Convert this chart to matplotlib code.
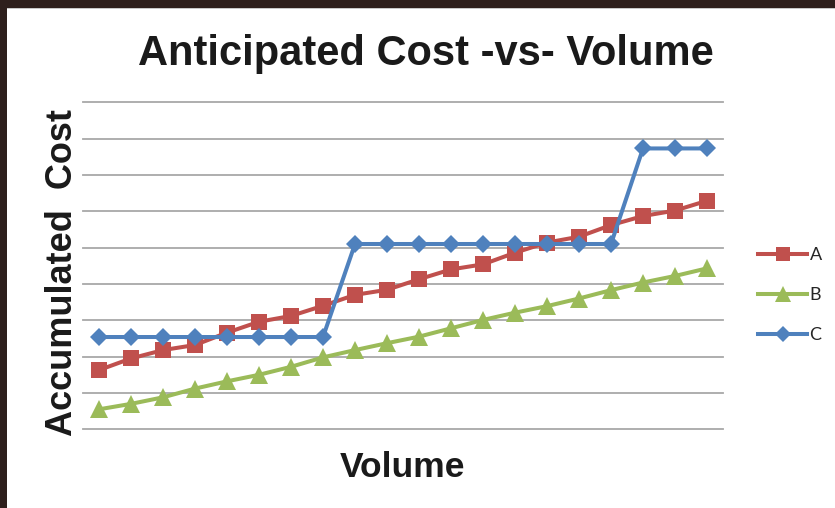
import matplotlib
matplotlib.use("Agg")
import matplotlib.pyplot as plt
from matplotlib.lines import Line2D
from matplotlib.patches import Rectangle

# Data: accumulated cost for each option over 20 volume steps
volume_steps = list(range(1, 21))
cost_a = [1.63, 1.95, 2.18, 2.32, 2.66, 2.96, 3.12, 3.40, 3.70, 3.84,
          4.13, 4.40, 4.54, 4.86, 5.14, 5.30, 5.62, 5.87, 6.02, 6.29]
cost_b = [0.55, 0.70, 0.88, 1.12, 1.32, 1.50, 1.72, 1.98, 2.18, 2.37,
          2.55, 2.78, 3.01, 3.21, 3.39, 3.60, 3.83, 4.04, 4.22, 4.43]
cost_c = [2.54, 2.54, 2.54, 2.54, 2.54, 2.54, 2.54, 2.54, 5.10, 5.10,
          5.10, 5.10, 5.10, 5.10, 5.10, 5.10, 5.10, 7.73, 7.73, 7.73]
series_names = ["A", "B", "C"]
grid_levels = list(range(0, 10))

RED = "#C0504D"
GREEN = "#9BBB59"
BLUE = "#4F81BD"
GRID = "#A8A8A8"

W, H = 835, 508
fig = plt.figure(figsize=(W / 100, H / 100), dpi=100)
fig.patch.set_facecolor("white")

# dark frame on the top and left edges
frame = "#2E1F1C"
fig.patches.append(Rectangle((0, 1 - 7.5 / H), 1, 7.5 / H, transform=fig.transFigure,
                             facecolor=frame, edgecolor="none", zorder=10))
fig.patches.append(Rectangle((0, 0), 6.5 / W, 1, transform=fig.transFigure,
                             facecolor=frame, edgecolor="none", zorder=10))
fig.patches.append(Rectangle((6.5 / W, 1 - 8.5 / H), 1, 1 / H, transform=fig.transFigure,
                             facecolor="#C8C8C8", edgecolor="none", zorder=9))

left, right, top, bottom = 83, 723, 102.3, 429.3
ax = fig.add_axes([left / W, 1 - bottom / H, (right - left) / W, (bottom - top) / H])
ax.set_facecolor("none")
for s in ax.spines.values():
    s.set_visible(False)
ax.set_xticks([])
ax.set_yticks([])
ax.set_xlim(0.5, 20.5)
ax.set_ylim(0, 9)

for g in grid_levels:
    ax.axhline(g, color=GRID, lw=1.3, zorder=0, clip_on=False)

ax.plot(volume_steps, cost_a, color=RED, lw=2.9, marker="s", ms=12,
        markeredgewidth=0, zorder=3, clip_on=False)
ax.plot(volume_steps, cost_b, color=GREEN, lw=2.9, marker="^", ms=13.5,
        markeredgewidth=0, zorder=4, clip_on=False)
ax.plot(volume_steps, cost_c, color=BLUE, lw=2.9, marker="D", ms=9.5,
        markeredgewidth=0, zorder=5, clip_on=False)

# titles
bold = dict(family=["Liberation Sans", "DejaVu Sans"], weight="bold", color="#1A1A1A")
fig.text(425.5 / W, 1 - 65 / H, "Anticipated Cost -vs- Volume", ha="center",
         va="baseline", fontsize=30, **bold)
fig.text(403 / W, 1 - 477 / H, "Volume", ha="center", va="baseline",
         fontsize=25.5, **bold)
fig.text(72 / W, 1 - 272.4 / H, "Accumulated  Cost", ha="center", va="baseline",
         rotation=90, rotation_mode="anchor", fontsize=26, **bold)

handles = [
    Line2D([], [], color=RED, lw=2.9, marker="s", ms=10.5, markeredgewidth=0),
    Line2D([], [], color=GREEN, lw=2.9, marker="^", ms=11.5, markeredgewidth=0),
    Line2D([], [], color=BLUE, lw=2.9, marker="D", ms=8, markeredgewidth=0),
]
fig.legend(handles, series_names, loc="center left",
           bbox_to_anchor=(757.7 / W, 1 - 295 / H), bbox_transform=fig.transFigure,
           frameon=False, borderpad=0, borderaxespad=0, handlelength=2.75,
           handletextpad=0.12, labelspacing=1.32,
           prop=dict(family=["Lato", "DejaVu Sans"], size=13))
for t in fig.legends[0].get_texts():
    t.set_color("#262626")

fig.savefig("out.png", dpi=100, facecolor="white")
